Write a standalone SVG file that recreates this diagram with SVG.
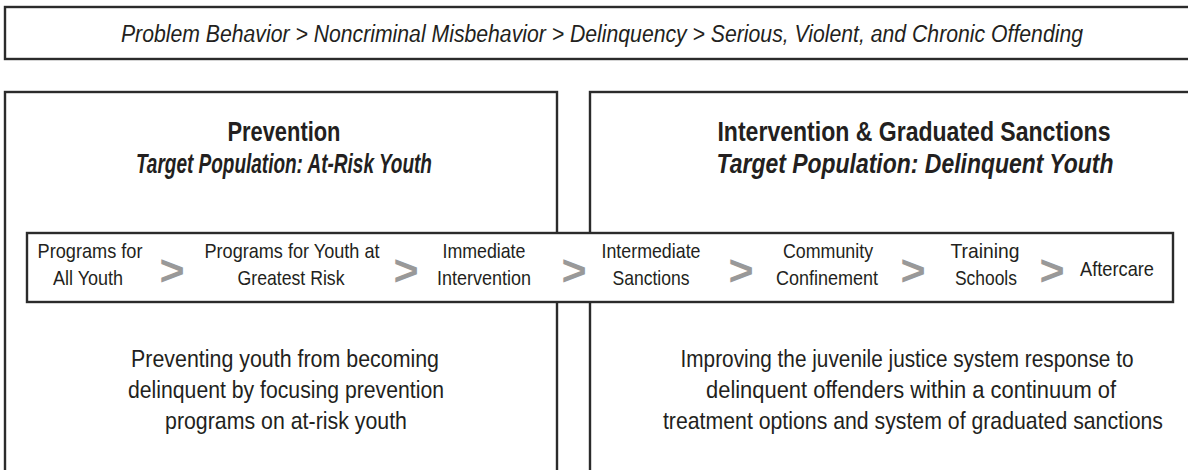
<svg xmlns="http://www.w3.org/2000/svg" width="1188" height="470" viewBox="0 0 1188 470">
<style>
.box{fill:#fff;stroke:#2b2b2b;stroke-width:2.4}
text{font-family:"Liberation Sans",Arial,sans-serif;fill:#231f20;text-anchor:middle}
.hdr{font-size:24px;font-style:italic}
.ttl{font-size:28px;font-weight:bold}
.sub{font-size:28px;font-weight:bold;font-style:italic}
.step{font-size:21px}
.desc{font-size:24px}
.chev{font-size:43px;font-weight:bold;fill:#999}
</style>
<rect width="1188" height="470" fill="#fff"/>
<g id="continuum">
<rect class="box" x="5" y="7" width="1190" height="52"/>
<g transform="scale(0.82,1)">
<text class="hdr" x="734.1" y="42" textLength="1173.2" lengthAdjust="spacingAndGlyphs">Problem Behavior &gt; Noncriminal Misbehavior &gt; Delinquency &gt; Serious, Violent, and Chronic Offending</text>
</g>
</g>
<g id="prevention">
<rect class="box" x="5" y="92" width="552" height="390"/>
<g transform="scale(0.82,1)">
<text class="ttl" x="346.3" y="141" textLength="137.8" lengthAdjust="spacingAndGlyphs">Prevention</text>
<text class="sub" x="346.3" y="173" textLength="361" lengthAdjust="spacingAndGlyphs">Target Population: At-Risk Youth</text>
<text class="desc" x="347.6" y="367" textLength="375.6" lengthAdjust="spacingAndGlyphs">Preventing youth from becoming</text>
<text class="desc" x="348.8" y="398" textLength="385.4" lengthAdjust="spacingAndGlyphs">delinquent by focusing prevention</text>
<text class="desc" x="348.8" y="429" textLength="295.1" lengthAdjust="spacingAndGlyphs">programs on at-risk youth</text>
</g>
</g>
<g id="intervention">
<rect class="box" x="590" y="92" width="610" height="390"/>
<g transform="scale(0.82,1)">
<text class="ttl" x="1114.6" y="141" textLength="479.3" lengthAdjust="spacingAndGlyphs">Intervention &amp; Graduated Sanctions</text>
<text class="sub" x="1115.9" y="173" textLength="484.1" lengthAdjust="spacingAndGlyphs">Target Population: Delinquent Youth</text>
<text class="desc" x="1106.1" y="367" textLength="552.4" lengthAdjust="spacingAndGlyphs">Improving the juvenile justice system response to</text>
<text class="desc" x="1111" y="398" textLength="500" lengthAdjust="spacingAndGlyphs">delinquent offenders within a continuum of</text>
<text class="desc" x="1113.4" y="429" textLength="609.8" lengthAdjust="spacingAndGlyphs">treatment options and system of graduated sanctions</text>
</g>
</g>
<g id="strip">
<rect class="box" x="27" y="233" width="1146" height="69"/>
</g>
<g id="step1" transform="scale(0.82,1)"><text class="step" x="109.8" y="258" textLength="128" lengthAdjust="spacingAndGlyphs">Programs for</text><text class="step" x="107.3" y="285" textLength="85.4" lengthAdjust="spacingAndGlyphs">All Youth</text></g>
<g id="step2" transform="scale(0.82,1)"><text class="step" x="356.1" y="258" textLength="213.4" lengthAdjust="spacingAndGlyphs">Programs for Youth at</text><text class="step" x="354.9" y="285" textLength="130.5" lengthAdjust="spacingAndGlyphs">Greatest Risk</text></g>
<g id="step3" transform="scale(0.82,1)"><text class="step" x="590.2" y="258" textLength="101.2" lengthAdjust="spacingAndGlyphs">Immediate</text><text class="step" x="590.2" y="285" textLength="114.6" lengthAdjust="spacingAndGlyphs">Intervention</text></g>
<g id="step4" transform="scale(0.82,1)"><text class="step" x="793.9" y="258" textLength="120.7" lengthAdjust="spacingAndGlyphs">Intermediate</text><text class="step" x="793.9" y="285" textLength="93.9" lengthAdjust="spacingAndGlyphs">Sanctions</text></g>
<g id="step5" transform="scale(0.82,1)"><text class="step" x="1009.8" y="258" textLength="109.8" lengthAdjust="spacingAndGlyphs">Community</text><text class="step" x="1008.5" y="285" textLength="124.4" lengthAdjust="spacingAndGlyphs">Confinement</text></g>
<g id="step6" transform="scale(0.82,1)"><text class="step" x="1201.2" y="258" textLength="84.1" lengthAdjust="spacingAndGlyphs">Training</text><text class="step" x="1202.4" y="285" textLength="75.6" lengthAdjust="spacingAndGlyphs">Schools</text></g>
<g id="step7" transform="scale(0.82,1)"><text class="step" x="1362.2" y="276" textLength="90.2" lengthAdjust="spacingAndGlyphs">Aftercare</text></g>
<g id="connectors">
<text class="chev" x="172" y="285">&gt;</text>
<text class="chev" x="406" y="285">&gt;</text>
<text class="chev" x="574" y="285">&gt;</text>
<text class="chev" x="741" y="285">&gt;</text>
<text class="chev" x="913" y="285">&gt;</text>
<text class="chev" x="1052" y="285">&gt;</text>
</g>
</svg>
